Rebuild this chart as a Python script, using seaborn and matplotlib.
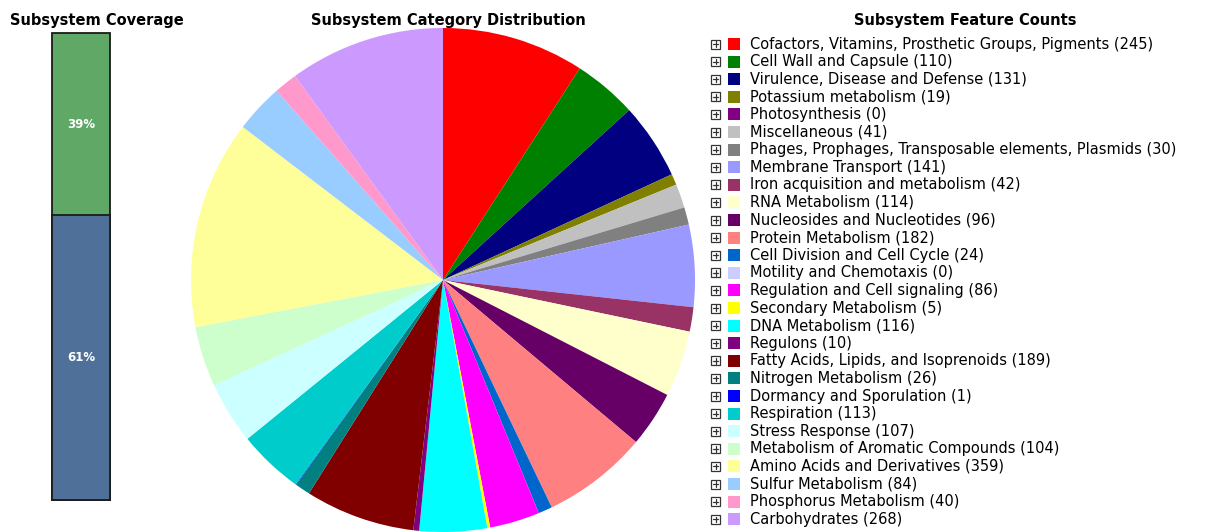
import matplotlib
matplotlib.use("Agg")
import matplotlib.pyplot as plt
import seaborn as sns
import pandas as pd
from matplotlib.patches import Rectangle

# subsystem coverage (percent)
coverage_labels = ["in subsystem", "not in subsystem"]
coverage_values = [39, 61]
coverage_colors = ["#60a866", "#4f7199"]

# subsystem categories and feature counts
categories = [
    "Cofactors, Vitamins, Prosthetic Groups, Pigments",
    "Cell Wall and Capsule",
    "Virulence, Disease and Defense",
    "Potassium metabolism",
    "Photosynthesis",
    "Miscellaneous",
    "Phages, Prophages, Transposable elements, Plasmids",
    "Membrane Transport",
    "Iron acquisition and metabolism",
    "RNA Metabolism",
    "Nucleosides and Nucleotides",
    "Protein Metabolism",
    "Cell Division and Cell Cycle",
    "Motility and Chemotaxis",
    "Regulation and Cell signaling",
    "Secondary Metabolism",
    "DNA Metabolism",
    "Regulons",
    "Fatty Acids, Lipids, and Isoprenoids",
    "Nitrogen Metabolism",
    "Dormancy and Sporulation",
    "Respiration",
    "Stress Response",
    "Metabolism of Aromatic Compounds",
    "Amino Acids and Derivatives",
    "Sulfur Metabolism",
    "Phosphorus Metabolism",
    "Carbohydrates",
]
counts = [245, 110, 131, 19, 0, 41, 30, 141, 42, 114, 96, 182, 24, 0,
          86, 5, 116, 10, 189, 26, 1, 113, 107, 104, 359, 84, 40, 268]
colors = ["#ff0000", "#008000", "#000080", "#808000", "#800080", "#c0c0c0",
          "#808080", "#9999ff", "#993366", "#ffffcc", "#660066", "#ff8080",
          "#0066cc", "#ccccff", "#ff00ff", "#ffff00", "#00ffff", "#800080",
          "#800000", "#008080", "#0000ff", "#00cccc", "#ccffff", "#ccffcc",
          "#ffff99", "#99ccff", "#ff99cc", "#cc99ff"]

sns.set_theme(style="white")
plt.rcParams['font.family'] = ['DejaVu Sans']

W, H = 1226, 532
fig = plt.figure(figsize=(W / 100, H / 100), dpi=100)
fig.patch.set_facecolor("white")

##coverage bar
ax_bar = fig.add_axes([52 / W, 1 - 500 / H, 58 / W, 467 / H])
df_cov = pd.DataFrame({"x": ["cov"], "total": [sum(coverage_values)],
                       "lower": [coverage_values[1]]})
sns.barplot(data=df_cov, x="x", y="total", color=coverage_colors[0],
            saturation=1, width=1, edgecolor="#1a1a1a", linewidth=1.3, ax=ax_bar)
sns.barplot(data=df_cov, x="x", y="lower", color=coverage_colors[1],
            saturation=1, width=1, edgecolor="#1a1a1a", linewidth=1.3, ax=ax_bar)
for p in ax_bar.patches:
    p.set_clip_on(False)
ax_bar.set_xlim(-0.5, 0.5)
ax_bar.set_ylim(0, 100)
ax_bar.axis("off")
ax_bar.text(0, coverage_values[1] + coverage_values[0] / 2, f"{coverage_values[0]}%",
            ha="center", va="center", color="white", fontsize=8.5, fontweight="bold")
ax_bar.text(0, coverage_values[1] / 2, f"{coverage_values[1]}%",
            ha="center", va="center", color="white", fontsize=8.5, fontweight="bold")

##pie
ax_pie = fig.add_axes([191 / W, 0, 504 / W, 504 / H])
ax_pie.pie(counts, colors=colors, startangle=90, counterclock=False,
           wedgeprops=dict(linewidth=0))
ax_pie.set_xlim(-1, 1)
ax_pie.set_ylim(-1, 1)
ax_pie.set_aspect("equal")

##legend
ax_leg = fig.add_axes([700 / W, 0, (W - 700) / W, 1])
ax_leg.set_xlim(700, W)
ax_leg.set_ylim(H, 0)
ax_leg.axis("off")
for i, (name, c, col) in enumerate(zip(categories, counts, colors)):
    y = 44 + i * 17.6
    ax_leg.add_patch(Rectangle((711, y - 4.5), 9, 9, facecolor="white",
                               edgecolor="#333333", linewidth=0.9))
    ax_leg.plot([712.8, 718.2], [y, y], color="#333333", linewidth=0.9)
    ax_leg.plot([715.5, 715.5], [y - 2.7, y + 2.7], color="#333333", linewidth=0.9)
    ax_leg.add_patch(Rectangle((728, y - 6), 12, 12, facecolor=col, edgecolor="none"))
    ax_leg.text(750, y, f"{name} ({c})", ha="left", va="center", fontsize=10.5,
                color="black")

##titles
fig.text(97 / W, 1 - 20 / H, "Subsystem Coverage", ha="center", va="center",
         fontsize=10.5, fontweight="bold", color="black")
fig.text(448 / W, 1 - 20 / H, "Subsystem Category Distribution", ha="center",
         va="center", fontsize=10.5, fontweight="bold", color="black")
fig.text(965 / W, 1 - 20 / H, "Subsystem Feature Counts", ha="center",
         va="center", fontsize=10.5, fontweight="bold", color="black")

fig.savefig("out.png", dpi=100)
